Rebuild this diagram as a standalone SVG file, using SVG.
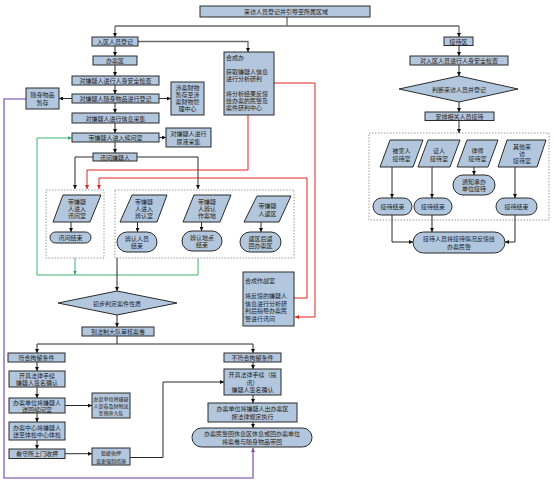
<svg xmlns="http://www.w3.org/2000/svg" width="554" height="486" viewBox="0 0 554 486">
<style>
.n{fill:#b2c6dd;stroke:#2b2b2b;stroke-width:1}
.d{fill:none;stroke:#9a9a9a;stroke-width:1;stroke-dasharray:1.5 1.5}
.t{font-family:"Noto Sans CJK SC","Noto Sans CJK JP",sans-serif;font-size:6px;fill:#222;text-anchor:middle;dominant-baseline:central}
.l{text-anchor:start}
.s{font-size:5px}
.c{fill:none;stroke:#111;stroke-width:0.9}
.g{fill:none;stroke:#6a6a6a;stroke-width:1.3}
.r{fill:none;stroke:#e32020;stroke-width:1}
.gr{fill:none;stroke:#3cb46a;stroke-width:1}
.p{fill:none;stroke:#9c7cc0;stroke-width:1.6}
</style>
<defs>
<marker id="a" viewBox="0 0 6 6" refX="6" refY="3" markerWidth="4" markerHeight="4" markerUnits="userSpaceOnUse" orient="auto"><path d="M0,0 L6,3 L0,6 z" fill="#111"/></marker>
<marker id="ar" viewBox="0 0 6 6" refX="6" refY="3" markerWidth="4" markerHeight="4" markerUnits="userSpaceOnUse" orient="auto"><path d="M0,0 L6,3 L0,6 z" fill="#e32020"/></marker>
<marker id="ag" viewBox="0 0 6 6" refX="6" refY="3" markerWidth="4" markerHeight="4" markerUnits="userSpaceOnUse" orient="auto"><path d="M0,0 L6,3 L0,6 z" fill="#2ea860"/></marker>
<marker id="ap" viewBox="0 0 6 6" refX="6" refY="3" markerWidth="4" markerHeight="4" markerUnits="userSpaceOnUse" orient="auto"><path d="M0,0 L6,3 L0,6 z" fill="#7a4fa8"/></marker>
</defs>
<rect width="554" height="486" fill="#ffffff"/>

<rect class="d" x="46" y="190" width="58" height="68"/>
<rect class="d" x="115" y="190" width="179" height="68"/>
<rect class="d" x="369" y="133" width="180" height="87"/>

<g id="connectors">
<path class="g" d="M287,17 V26 M115,26 H459"/>
<path class="g" d="M115,26 V37" marker-end="url(#a)"/>
<path class="g" d="M459,26 V37" marker-end="url(#a)"/>
<path class="g" d="M138,41.5 H248 V52" marker-end="url(#a)"/>
<path class="c" d="M115,46 V56" marker-end="url(#a)"/>
<path class="c" d="M115,65 V76" marker-end="url(#a)"/>
<path class="c" d="M115,85 V94" marker-end="url(#a)"/>
<path class="c" d="M115,103 V113" marker-end="url(#a)"/>
<path class="c" d="M115,123 V133" marker-end="url(#a)"/>
<path class="c" d="M115,142 V153" marker-end="url(#a)"/>
<path class="c" d="M72,98.5 H59" marker-end="url(#a)"/>
<path class="c" d="M159,98.5 H171" marker-end="url(#a)"/>
<path class="c" d="M159,137.5 H166" marker-end="url(#a)"/>
<path class="c" d="M93,157 H75 V189" marker-end="url(#a)"/>
<path class="c" d="M137,157 H198 V189" marker-end="url(#a)"/>
<path class="r" d="M274,83 H315 V317 H295" marker-end="url(#ar)"/>
<path class="r" d="M248,115 V170 H87 V189" marker-end="url(#ar)"/>
<path class="r" d="M294,298 H307 V178 H99 V189" marker-end="url(#ar)"/>
<path class="c" d="M71,222 V232" marker-end="url(#a)"/>
<path class="c" d="M137.5,222 V232" marker-end="url(#a)"/>
<path class="c" d="M201.5,222 V231" marker-end="url(#a)"/>
<path class="c" d="M261,222 V232" marker-end="url(#a)"/>
<path class="gr" d="M198,258 V275 H37 V138 H71.5" marker-end="url(#ag)"/>
<path class="gr" d="M75,258 V274.5" marker-end="url(#ag)"/>
<path class="c" d="M117,258 V291" marker-end="url(#a)"/>
<path class="c" d="M117,315 V327" marker-end="url(#a)"/>
<path class="c" d="M117,336 V344 M37,344 H253"/>
<path class="c" d="M37,344 V353" marker-end="url(#a)"/>
<path class="c" d="M253,344 V353" marker-end="url(#a)"/>
<path class="c" d="M37,362 V371" marker-end="url(#a)"/>
<path class="c" d="M37,387 V398" marker-end="url(#a)"/>
<path class="c" d="M65,405.5 H92" marker-end="url(#a)"/>
<path class="c" d="M37,413 V422" marker-end="url(#a)"/>
<path class="c" d="M37,440 V449" marker-end="url(#a)"/>
<path class="c" d="M65,453.7 H92" marker-end="url(#a)"/>
<path class="c" d="M130,457.5 H163 V382 H224" marker-end="url(#a)"/>
<path class="c" d="M253,362 V369" marker-end="url(#a)"/>
<path class="c" d="M253,395 V403" marker-end="url(#a)"/>
<path class="c" d="M253,422 V428" marker-end="url(#a)"/>
<path class="p" d="M26,99 H4 V478 H253 V448" marker-end="url(#ap)"/>
<path class="c" d="M459,45.5 V56" marker-end="url(#a)"/>
<path class="c" d="M459,65 V76" marker-end="url(#a)"/>
<path class="c" d="M459,102 V112" marker-end="url(#a)"/>
<path class="c" d="M459,120.5 V133" marker-end="url(#a)"/>
<path class="c" d="M392,167 V198" marker-end="url(#a)"/>
<path class="c" d="M432,167 V198" marker-end="url(#a)"/>
<path class="c" d="M474,167 V175" marker-end="url(#a)"/>
<path class="c" d="M515,167 V198" marker-end="url(#a)"/>
<path class="c" d="M392,215 V242 H413" marker-end="url(#a)"/>
<path class="c" d="M432,215 V232" marker-end="url(#a)"/>
<path class="c" d="M515,215 V242 H505" marker-end="url(#a)"/>
</g>

<g id="n-top"><rect class="n" x="200" y="6" width="170" height="11"/><text class="t" x="286" y="11.5">来访人员登记并引导至所属区域</text></g>

<g id="n-ruqu"><rect class="n" x="92" y="37" width="46" height="9"/><text class="t" x="115" y="41.5">入区人员登记</text></g>
<g id="n-banan"><rect class="n" x="93" y="56" width="44" height="9"/><text class="t" x="115" y="60.5">办案区</text></g>
<g id="n-anjian"><rect class="n" x="72" y="76" width="87" height="9"/><text class="t" x="115.5" y="80.5">对嫌疑人进行人身安全检查</text></g>
<g id="n-wupin"><rect class="n" x="72" y="94" width="87" height="9"/><text class="t" x="115.5" y="98.5">对嫌疑人随身物品进行登记</text></g>
<g id="n-xinxi"><rect class="n" x="72" y="113" width="87" height="10"/><text class="t" x="115.5" y="118">对嫌疑人进行信息采集</text></g>
<g id="n-houwen"><rect class="n" x="72" y="133" width="87" height="9"/><text class="t" x="115.5" y="137.5">带嫌疑人进入候问室</text></g>
<g id="n-xunwen"><rect class="n" x="93" y="153" width="44" height="8"/><text class="t" x="115" y="157">讯问嫌疑人</text></g>
<g id="n-zancun"><rect class="n" x="26" y="88" width="33" height="21"/><text class="t" x="42.5" y="94.3">随身物品</text><text class="t" x="42.5" y="102.8">暂存</text></g>
<g id="n-caiwu"><rect class="n" x="171" y="82" width="33" height="33"/><text class="t" x="187.5" y="87">涉案财物</text><text class="t" x="187.5" y="94.3">暂存至涉</text><text class="t" x="187.5" y="101.6">案财物管</text><text class="t" x="187.5" y="108.9">理中心</text></g>
<g id="n-niaoye"><rect class="n" x="166" y="128" width="45" height="19"/><text class="t" x="188.5" y="133.8">对嫌疑人进行</text><text class="t" x="188.5" y="141.6">尿液采集</text></g>
<g id="n-hechengban"><rect class="n" x="224" y="52" width="50" height="63"/><text class="t l" x="226" y="57">合成办</text><text class="t l" x="226" y="71.4">获取嫌疑人信息</text><text class="t l" x="226" y="78.8">进行分析研判</text><text class="t l" x="226" y="93">将分析结果反馈</text><text class="t l" x="226" y="100.4">给办案的民警及</text><text class="t l" x="226" y="107.8">案件研判中心</text></g>

<g id="n-p-xunwenshi"><polygon class="n" points="63,195 101,195 90,222 53,222"/><text class="t" x="77" y="201.3">带嫌疑</text><text class="t" x="77" y="208.5">人进入</text><text class="t" x="77" y="215.7">讯问室</text></g>
<g id="n-e-xunwen"><rect class="n" x="50" y="232" width="41" height="11" rx="5.5"/><text class="t" x="70.5" y="237.5">讯问结束</text></g>
<g id="n-p-bianrenshi"><polygon class="n" points="132,195 167,195 157,222 120,222"/><text class="t" x="144" y="201.3">带嫌疑</text><text class="t" x="144" y="208.5">人进入</text><text class="t" x="144" y="215.7">辨认室</text></g>
<g id="n-e-bianren"><rect class="n" x="117" y="232" width="40" height="20" rx="10"/><text class="t" x="137" y="238.2">辨认人员</text><text class="t" x="137" y="245.8">结束</text></g>
<g id="n-p-zuoan"><polygon class="n" points="194,195 231,195 220,222 183,222"/><text class="t" x="207" y="201.3">带嫌疑</text><text class="t" x="207" y="208.5">人辨认</text><text class="t" x="207" y="215.7">作案地</text></g>
<g id="n-e-didian"><rect class="n" x="182" y="231" width="40" height="20" rx="10"/><text class="t" x="202" y="237.2">辨认地点</text><text class="t" x="202" y="244.8">结束</text></g>
<g id="n-p-fanqu"><polygon class="n" points="257,196 291,196 279,222 244,222"/><text class="t" x="267.5" y="205">带嫌疑</text><text class="t" x="267.5" y="213">人返区</text></g>
<g id="n-e-fanqu"><rect class="n" x="240" y="232" width="41" height="20" rx="10"/><text class="t" x="260.5" y="238.2">返区后返</text><text class="t" x="260.5" y="245.8">回办案区</text></g>

<g id="n-zuozhan"><rect class="n" x="243" y="272" width="51" height="54"/><text class="t l" x="245" y="280">合成作战室</text><text class="t l" x="245" y="295.5">将反馈的嫌疑人</text><text class="t l" x="245" y="303.2">信息进行分析研</text><text class="t l" x="245" y="310.9">判后指导办案民</text><text class="t l" x="245" y="318.6">警进行讯问</text></g>

<g id="n-panding"><polygon class="n" points="58,303 117,291 177,303 117,315"/><text class="t" x="117" y="303">初步判定案件性质</text></g>
<g id="n-fazhi"><rect class="n" x="82" y="327" width="72" height="9"/><text class="t" x="118" y="331.5">到法制大队审核案卷</text></g>

<g id="n-fuhe"><rect class="n" x="8" y="353" width="57" height="9"/><text class="t" x="36.5" y="357.5">符合拘留条件</text></g>
<g id="n-shouxu1"><rect class="n" x="9" y="371" width="56" height="16"/><text class="t" x="37" y="375.2">开具法律手续</text><text class="t" x="37" y="382.7">嫌疑人签名确认</text></g>
<g id="n-songhui"><rect class="n" x="9" y="398" width="56" height="15"/><text class="t" x="37" y="402">办案单位将嫌疑人</text><text class="t" x="37" y="409.3">送回候问室</text></g>
<g id="n-yushen"><rect class="n" x="92" y="393" width="38" height="25"/><text class="t s" x="111" y="398.8">办案单位将嫌疑</text><text class="t s" x="111" y="405.8">人案卷及财物送</text><text class="t s" x="111" y="412.8">至预审大队</text></g>
<g id="n-tijian"><rect class="n" x="9" y="422" width="56" height="18"/><text class="t" x="37" y="427.4">办案中心将嫌疑人</text><text class="t" x="37" y="434.8">送至体检中心体检</text></g>
<g id="n-kanshousuo"><rect class="n" x="9" y="449" width="56" height="9.5"/><text class="t" x="37" y="453.7">看守所上门收押</text></g>
<g id="n-zanhuan"><rect class="n" x="92" y="448" width="38" height="17"/><text class="t s" x="111" y="452.7">暂缓收押</text><text class="t s" x="111" y="460.4">变更强制措施</text></g>

<g id="n-bufuhe"><rect class="n" x="224" y="353" width="57" height="9"/><text class="t" x="252.5" y="357.5">不符合拘留条件</text></g>
<g id="n-shouxu2"><rect class="n" x="224" y="369" width="57" height="26"/><text class="t" x="252.5" y="374.8">开具法律手续（提</text><text class="t" x="252.5" y="382">讯）</text><text class="t" x="252.5" y="389.2">嫌疑人签名确认</text></g>
<g id="n-chuqu"><rect class="n" x="208" y="403" width="89" height="19"/><text class="t" x="252.5" y="408.5">办案单位将嫌疑人出办案区</text><text class="t" x="252.5" y="416.2">按法律规定执行</text></g>
<g id="n-e-huiqu"><rect class="n" x="192" y="428" width="120" height="19" rx="9.5"/><text class="t" x="252" y="433.6">办案民警回休息区休息或回办案单位</text><text class="t" x="252" y="441.4">将案卷与随身物品带回</text></g>

<g id="n-jiedaiqu"><rect class="n" x="444" y="37" width="29" height="8.5"/><text class="t" x="458.5" y="41.3">接待区</text></g>
<g id="n-anjian2"><rect class="n" x="410" y="56" width="98" height="9"/><text class="t" x="459" y="60.5">对入区人员进行人身安全检查</text></g>
<g id="n-panduan"><polygon class="n" points="399,89 459,76 518,89 459,102"/><text class="t" x="459" y="89">判断来访人员并登记</text></g>
<g id="n-anpai"><rect class="n" x="425" y="112" width="69" height="8.5"/><text class="t" x="459.5" y="116.3">安排相关人员接待</text></g>
<g id="n-p-beihai"><polygon class="n" points="390,140 423,140 413,167 380,167"/><text class="t" x="401.5" y="150.3">被害人</text><text class="t" x="401.5" y="158.2">接待室</text></g>
<g id="n-p-zhengren"><polygon class="n" points="428,140 460,140 450,167 418,167"/><text class="t" x="439" y="150.3">证人</text><text class="t" x="439" y="158.2">接待室</text></g>
<g id="n-p-lvshi"><polygon class="n" points="467,140 498,140 488,167 457,167"/><text class="t" x="477.5" y="150.3">律师</text><text class="t" x="477.5" y="158.2">接待室</text></g>
<g id="n-p-qita"><polygon class="n" points="507,140 546,140 537,167 498,167"/><text class="t" x="522" y="146.8">其他来</text><text class="t" x="522" y="153.5">访</text><text class="t" x="522" y="160.2">接待室</text></g>
<g id="n-e-j1"><rect class="n" x="373" y="198" width="39" height="17" rx="8.5"/><text class="t" x="392.5" y="206.5">接待结束</text></g>
<g id="n-e-j2"><rect class="n" x="414" y="198" width="38" height="17" rx="8.5"/><text class="t" x="433" y="206.5">接待结束</text></g>
<g id="n-e-tongzhi"><rect class="n" x="453" y="175" width="42" height="20" rx="10"/><text class="t" x="474" y="181.1">通知承办</text><text class="t" x="474" y="188.7">单位接待</text></g>
<g id="n-e-j4"><rect class="n" x="496" y="198" width="41" height="17" rx="8.5"/><text class="t" x="516.5" y="206.5">接待结束</text></g>
<g id="n-e-fankui"><rect class="n" x="413" y="232" width="92" height="21" rx="10.5"/><text class="t" x="459" y="238.4">接待人员将接待情况反馈给</text><text class="t" x="459" y="246.6">办案民警</text></g>
</svg>
